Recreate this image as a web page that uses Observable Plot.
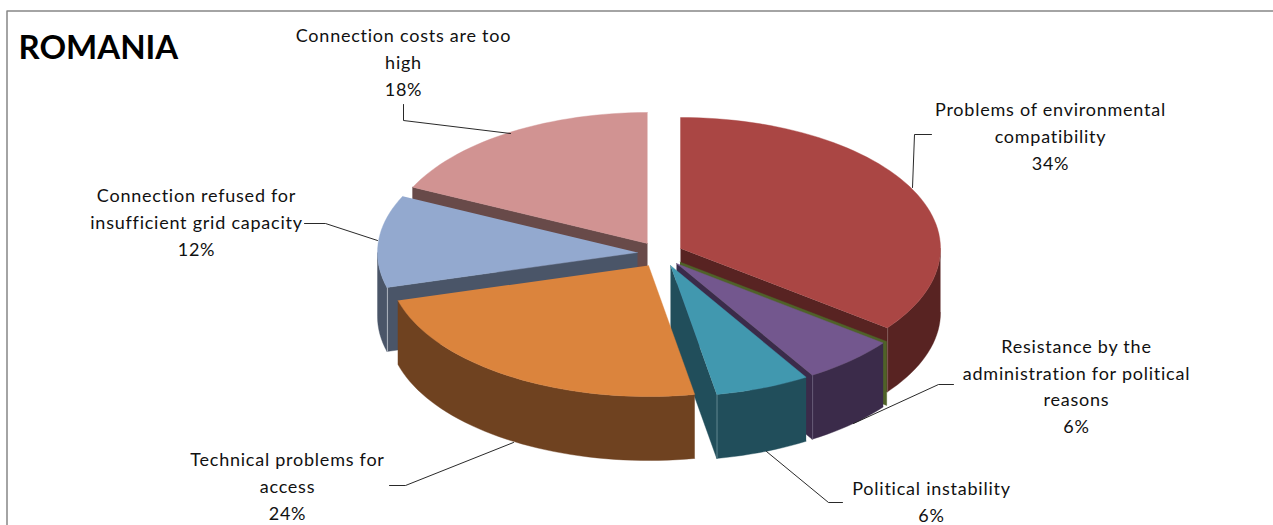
<!DOCTYPE html>
<html>
<head>
<meta charset="utf-8">
<script src="https://cdn.jsdelivr.net/npm/d3@7"></script>
<script src="https://cdn.jsdelivr.net/npm/@observablehq/plot@0.6"></script>
<style>
  html, body { margin: 0; padding: 0; background: #fff; }
  svg { display: block; }
  .slice-label text { letter-spacing: 0.76px; font-variant-ligatures: none; }
</style>
</head>
<body>
<div id="chart"></div>
<script>
// Barriers to grid connection in Romania, share of answers (%).
// The zero share is the unlabelled category whose cut wall shows as a green sliver.
const categories = [
  "Problems of environmental\ncompatibility",
  "",
  "Resistance by the\nadministration for political\nreasons",
  "Political instability",
  "Technical problems for\naccess",
  "Connection refused for\ninsufficient grid capacity",
  "Connection costs are too\nhigh"
];
const shares = [34, 0, 6, 6, 24, 12, 18];

// Face colours, one per slice.
const topColors = ["#AA4644", "#76923C", "#73578E", "#4198AF", "#DB843D", "#93A9CF", "#D19392"];
const sideColors = ["#582322", "#4F6228", "#3B2B4A", "#214E5B", "#6F4220", "#4A5568", "#684A49"];
const glintColors = ["#8A6665", "#4F6228", "#6F6480", "#5F868F", "#6F4220", "#C9CFD8", "#684A49"];

// Where each exploded slice's tip sits on the chart.
const tipX = [680, 679.5, 676, 670, 648, 637, 647];
const tipY = [248, 261.5, 263, 265, 265, 252, 243];

// Label anchors, in slice order.
const labelX = [1050, 0, 1076, 931, 287, 196, 403];
const labelY = [134, 0, 384, 499.5, 484, 220, 60];

// Leader lines, in slice order.
const leaderX = [[931, 914, 912], [], [953, 938, 853], [842, 828, 766], [389, 405, 513], [304, 325, 377], [403, 403, 510]];
const leaderY = [[134, 134, 187], [], [384, 384, 423], [502, 502, 451], [485, 485, 442], [223, 223, 240], [104, 120, 133]];

const radiusX = 260;
const radiusY = 131;
const depth = 64;
const paintOrder = [6, 5, 0, 1, 2, 3, 4]; // back to front

// The tilted view stretches the disc a little, most of all on its right-hand front.
const rad = Math.PI / 180;
const viewStretch = d3.scaleLinear().domain([0, 120, 250, 300, 360]).range([0, 5, 2.6, 0, 0]);
const viewAngle = (a) => a + viewStretch(a);

const total = d3.sum(shares);
const cumulative = d3.cumsum(shares);
const slices = shares.map((s, i) => ({
  i,
  start: viewAngle(((cumulative[i] - s) / total) * 360),
  end: viewAngle((cumulative[i] / total) * 360)
}));

const rimPoint = (i, a, drop = 0) => ({
  x: tipX[i] + radiusX * Math.sin(a * rad),
  y: tipY[i] - radiusY * Math.cos(a * rad) + drop
});
const arc = (i, a0, a1, drop = 0) => {
  const n = Math.max(1, Math.ceil(Math.abs(a1 - a0) / 2));
  return d3.range(n + 1).map((k) => rimPoint(i, a0 + ((a1 - a0) * k) / n, drop));
};

// Each slice is painted as walls, then rim, then top surface.
const faces = [];
const addFace = (points, color) => {
  const poly = faces.length ? faces[faces.length - 1].poly + 1 : 0;
  for (const p of points) faces.push({ ...p, poly, color });
};
for (const idx of paintOrder) {
  const { i, start, end } = slices[idx];
  const tip = { x: tipX[i], y: tipY[i] };
  const wall = (a) => {
    const p = rimPoint(i, a);
    addFace([tip, p, { x: p.x, y: p.y + depth }, { x: tip.x, y: tip.y + depth }], sideColors[i]);
  };
  // Thin lighter seam where a cut wall meets the rim.
  const seam = (a) => {
    const p = rimPoint(i, a);
    addFace([p, { x: p.x + 0.6, y: p.y }, { x: p.x + 0.6, y: p.y + depth }, { x: p.x, y: p.y + depth }], glintColors[i]);
  };
  if (Math.sin(start * rad) < -1e-6) wall(start);
  if (Math.sin(end * rad) > 1e-6) wall(end);
  const a0 = Math.max(start, 90);
  const a1 = Math.min(end, 270);
  if (a1 > a0) addFace([...arc(i, a0, a1), ...arc(i, a1, a0, depth)], sideColors[i]);
  if (shares[i] > 0) {
    if (Math.sin(start * rad) < -1e-6) seam(start);
    if (Math.sin(end * rad) > 1e-6) seam(end);
  }
  if (end > start) addFace([tip, ...arc(i, start, end)], topColors[i]);
}

const leaders = leaderX.flatMap((xs, i) => xs.map((x, k) => ({ i, x, y: leaderY[i][k] })));
const labels = categories
  .map((name, i) => ({ text: `${name}\n${shares[i]}%`, x: labelX[i], y: labelY[i], share: shares[i] }))
  .filter((d) => d.share > 0);

const frame = [{ x: 6.5, y: 525 }, { x: 6.5, y: 10.5 }, { x: 1273, y: 10.5 }];

const chart = Plot.plot({
  width: 1273,
  height: 525,
  margin: 0,
  x: { domain: [0, 1273], range: [0, 1273], axis: null },
  y: { domain: [0, 525], range: [0, 525], axis: null },
  style: { background: "#fff" },
  marks: [
    Plot.line(frame, { x: "x", y: "y", stroke: "#868686", strokeWidth: 1.5 }),
    Plot.line(faces, {
      x: "x", y: "y", z: "poly",
      fill: { value: "color", scale: null },
      stroke: { value: "color", scale: null },
      strokeWidth: 0.4
    }),
    Plot.line(leaders, { x: "x", y: "y", z: "i", stroke: "#111", strokeWidth: 0.9 }),
    Plot.text(labels, {
      x: "x", y: "y", text: "text",
      className: "slice-label",
      fontFamily: "Lato", fontSize: 18, lineHeight: 1.49,
      fill: "#111", textAnchor: "middle", lineAnchor: "middle"
    }),
    Plot.text(["ROMANIA"], {
      frameAnchor: "top-left", dx: 18, dy: 35,
      fontFamily: "Lato", fontSize: 33, fontWeight: 700,
      fill: "#000", lineAnchor: "top"
    })
  ]
});
document.getElementById("chart").append(chart);
</script>
</body>
</html>
